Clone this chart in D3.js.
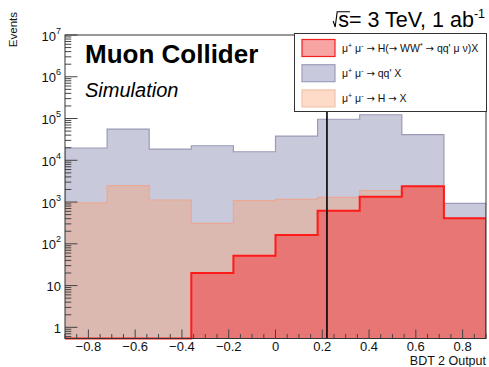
<!DOCTYPE html>
<html><head><meta charset="utf-8">
<script src="https://cdn.jsdelivr.net/npm/d3@7"></script>
<style>
body{margin:0;background:#fff}
svg{display:block;font-family:"Liberation Sans",Arial,Helvetica,sans-serif}
</style>
</head><body>
<svg id="c" width="489" height="367"></svg>
<script>
// BDT output bin edges (10 equal bins)
const binEdges = [-0.9, -0.72, -0.54, -0.36, -0.18, 0, 0.18, 0.36, 0.54, 0.72, 0.9];
// events per bin
const qqX = [19700, 56000, 18600, 22300, 16000, 38000, 96000, 123000, 41000, 930];
const hX  = [950, 2460, 1120, 310, 1080, 1160, 1300, 1870, 1500, 250];
const hWW = [0, 0, 0, 20, 52, 162, 620, 1340, 2380, 408];

const xTicks = [-0.8, -0.6, -0.4, -0.2, 0, 0.2, 0.4, 0.6, 0.8];
const xTickLabels = ["\u22120.8", "\u22120.6", "\u22120.4", "\u22120.2", "0", "0.2", "0.4", "0.6", "0.8"];
const yTicks = [1, 10, 100, 1e3, 1e4, 1e5, 1e6, 1e7];
const yTickBase = ["1", "10", "10", "10", "10", "10", "10", "10"];
const yTickExp = ["", "", "2", "3", "4", "5", "6", "7"];
const cutValue = 0.22;

// legend text pieces: [text, style] with style 0 = normal, 1 = superscript, 2 = arrow
const legendEntries = [
  [["\u03bc"], ["+", 1], [" \u03bc"], ["-", 1], [" "], ["\u2192", 2], [" H("], ["\u2192", 2], [" WW"], ["*", 1], [" "], ["\u2192", 2], [" qq' \u03bc \u03bd)X"]],
  [["\u03bc"], ["+", 1], [" \u03bc"], ["-", 1], [" "], ["\u2192", 2], [" qq' X"]],
  [["\u03bc"], ["+", 1], [" \u03bc"], ["-", 1], [" "], ["\u2192", 2], [" H "], ["\u2192", 2], [" X"]]
];
const legendFill = ["#f8a4a4", "#c8c9dc", "#fddbc8"];
const legendStroke = ["#ee2020", "#9d9dba", "#f3c2aa"];

const W = 489, H = 367;
const m = {left: 65, right: 3, top: 35, bottom: 28.5};
const x0 = m.left, x1 = W - m.right, yTop = m.top, yBot = H - m.bottom;

const svg = d3.select("#c");
const x = d3.scaleLinear().domain([-0.9, 0.9]).range([x0, x1]);
const y = d3.scaleLog().domain([0.54, 1e7]).range([yBot, yTop]);

svg.append("defs").append("clipPath").attr("id", "plot")
  .append("rect").attr("x", x0).attr("y", yTop).attr("width", x1 - x0).attr("height", yBot - yTop + 1.5);

const g = svg.append("g").attr("clip-path", "url(#plot)");

function stepPoints(vals) {
  const pts = [[x(binEdges[0]), yBot]];
  vals.forEach((v, i) => {
    const yy = v > 0 ? y(v) : yBot;
    pts.push([x(binEdges[i]), yy], [x(binEdges[i + 1]), yy]);
  });
  pts.push([x(binEdges[binEdges.length - 1]), yBot]);
  return pts;
}
const line = d3.line();

function drawHist(vals, fill, stroke, sw) {
  const pts = stepPoints(vals);
  g.append("path").attr("d", line(pts) + "Z").attr("fill", fill).attr("stroke", "none");
  g.append("path").attr("d", line(pts)).attr("fill", "none").attr("stroke", stroke).attr("stroke-width", sw);
}
drawHist(qqX, "#c8c9db", "#9a9ab8", 1.2);
drawHist(hX, "#dbb9b1", "#eba894", 1.2);
drawHist(hWW, "#e87674", "#ff1a1a", 2);

// cut line
svg.append("line").attr("x1", x(cutValue)).attr("x2", x(cutValue))
  .attr("y1", yTop).attr("y2", yBot).attr("stroke", "#000").attr("stroke-width", 1.6);

// y ticks (inward)
const axisCol = "#444";
y.ticks().forEach(t => {
  const major = yTicks.some(v => Math.abs(v - t) / v < 1e-6);
  svg.append("line").attr("x1", x0).attr("x2", x0 + (major ? 12.5 : 6.3))
    .attr("y1", y(t)).attr("y2", y(t)).attr("stroke", axisCol).attr("stroke-width", 1);
});
// x ticks (inward)
x.ticks(36).forEach(t => {
  const major = xTicks.some(v => Math.abs(v - t) < 1e-6);
  svg.append("line").attr("x1", x(t)).attr("x2", x(t))
    .attr("y1", yBot).attr("y2", yBot - (major ? 9 : 4.5)).attr("stroke", axisCol).attr("stroke-width", 1);
});

// frame
svg.append("rect").attr("x", x0).attr("y", yTop).attr("width", x1 - x0).attr("height", yBot - yTop)
  .attr("fill", "none").attr("stroke", "#333").attr("stroke-width", 1);

// x tick labels
xTicks.forEach((t, i) => {
  svg.append("text").attr("x", x(t)).attr("y", 351).attr("text-anchor", "middle")
    .attr("font-size", 13).attr("fill", "#111").text(xTickLabels[i]);
});
// y tick labels
yTicks.forEach((t, i) => {
  const tx = svg.append("text").attr("x", 61).attr("y", y(t) + 5.5).attr("text-anchor", "end")
    .attr("font-size", 13).attr("fill", "#111");
  tx.append("tspan").text(yTickBase[i]);
  if (yTickExp[i]) tx.append("tspan").attr("font-size", 9).attr("dy", -7).text(yTickExp[i]);
});

// axis titles
svg.append("text").attr("x", 486).attr("y", 364.5).attr("text-anchor", "end")
  .attr("font-size", 12.5).attr("fill", "#111").text("BDT 2 Output");
svg.append("text").attr("transform", "translate(17,12) rotate(-90)").attr("text-anchor", "end")
  .attr("font-size", 11.5).attr("fill", "#111").text("Events");

// labels
svg.append("text").attr("x", 85).attr("y", 63).attr("font-size", 26).attr("font-weight", "bold")
  .attr("fill", "#000").text("Muon Collider");
svg.append("text").attr("x", 85).attr("y", 97).attr("font-size", 20).attr("font-style", "italic")
  .attr("fill", "#000").text("Simulation");

// energy / luminosity header with radical sign
const hdr = svg.append("text").attr("x", 485).attr("y", 27).attr("text-anchor", "end")
  .attr("font-size", 21.5).attr("fill", "#000");
hdr.append("tspan").text("s= 3 TeV, 1 ab");
hdr.append("tspan").attr("font-size", 12.5).attr("dy", -9.5).text("-1");
const sExt = hdr.node().getExtentOfChar(0);
const sx = sExt.x, capTop = 27 - 15.2;
svg.append("path")
  .attr("d", `M${sx - 5},${27 - 6} L${sx - 3},${27} L${sx - 1},${capTop} L${sx + sExt.width + 1},${capTop}`)
  .attr("fill", "none").attr("stroke", "#000").attr("stroke-width", 1.1);

// legend
const lg = svg.append("g");
lg.append("rect").attr("x", 294.5).attr("y", 33.5).attr("width", 192).attr("height", 78)
  .attr("fill", "#fff").attr("stroke", "#333").attr("stroke-width", 1);
legendEntries.forEach((parts, i) => {
  const cy = 48 + i * 25.2;
  lg.append("rect").attr("x", 302).attr("y", cy - 8.5).attr("width", 33).attr("height", 17)
    .attr("fill", legendFill[i]).attr("stroke", legendStroke[i]).attr("stroke-width", 1.2);
  const t = lg.append("text").attr("x", 342).attr("y", cy + 3.8).attr("font-size", 10.5).attr("fill", "#111");
  let wasSup = false;
  parts.forEach(p => {
    const ts = t.append("tspan").text(p[0]);
    if (p[1] === 1) { ts.attr("font-size", 7).attr("dy", -4); wasSup = true; return; }
    if (p[1] === 2) ts.attr("font-family", "DejaVu Sans").attr("font-size", 10);
    ts.attr("dy", wasSup ? 4 : 0);
    wasSup = false;
  });
});
</script>
</body></html>
